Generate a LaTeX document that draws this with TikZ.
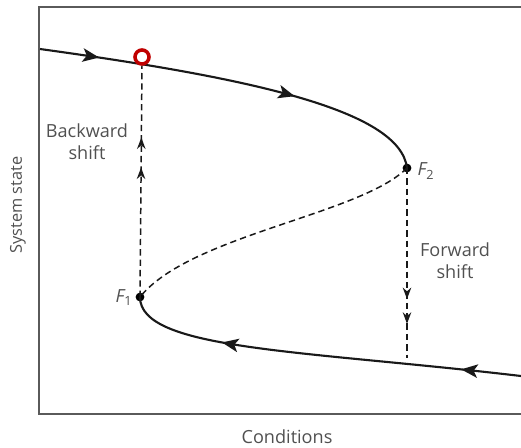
\documentclass[tikz,border=0pt]{standalone}
\usepackage{fontspec}
\setmainfont{Open Sans}
\usetikzlibrary{arrows.meta, decorations.markings}
\definecolor{inkaxis}{HTML}{5A5A5A}
\definecolor{inktext}{HTML}{505050}
\definecolor{inkred}{HTML}{C00000}

\begin{document}
\begin{tikzpicture}[x=0.02cm, y=-0.02cm,
    axis/.style={inkaxis, line width=1.1pt},
    branch/.style={black!90, line width=1.2pt},
    jump/.style={black!90, line width=0.85pt, dash pattern=on 3.6pt off 2.3pt},
    fold/.style={circle, fill=black, inner sep=0pt, minimum size=5pt},
    ring/.style={circle, draw=inkred, fill=white, line width=2pt,
                 inner sep=0pt, minimum size=8pt},
    lbl/.style={text=inktext, font=\fontsize{10.3}{12.5}\selectfont, align=center},
    flow/.style 2 args={postaction={decorate}, decoration={markings,
        mark=at position #1 with {\arrow{Stealth[length=3.3mm, width=2.7mm, inset=0.8mm]}},
        mark=at position #2 with {\arrow{Stealth[length=3.3mm, width=2.7mm, inset=0.8mm]}}}},
    shift/.style 2 args={postaction={decorate}, decoration={markings,
        mark=at position #1 with {\arrow{Stealth[length=2.3mm, width=1.7mm]}},
        mark=at position #2 with {\arrow{Stealth[length=2.3mm, width=1.7mm]}}}}]
  \useasboundingbox (0,0) rectangle (521,447);
  % frame
  \draw[axis] (521,7) -- (39,7) -- (39,414) -- (521,414);
  % points on the curve
  \coordinate (start) at (40,49);
  \coordinate (end) at (521,376);
  \coordinate (land) at (407,358);
  \node[fold] (F2) at (407,168) {};
  \node[fold] (F1) at (140,297) {};
  % branches
  \draw[branch, flow={0.15}{0.65}] (start) .. controls (250,78) and (400,110) .. (F2.center);
  \draw[branch, flow={0.15}{0.75}] (end) .. controls (300,350) and (140,350) .. (F1.center);
  \draw[jump] (F2.center) .. controls (360,215) and (190,235) .. (F1.center);
  % shifts
  \node[ring] (back) at (142,57) {};
  \draw[jump, shift={0.56}{0.69}] (F1.center) -- (back.south);
  \draw[jump, shift={0.69}{0.82}] (F2.center) -- (land);
  % labels
  \node[lbl] (bw) at (87,142) {Backward\\shift};
  \node[lbl] (fw) at (455,261) {Forward\\shift};
  \node[lbl] (f1) at (124,298) {\itshape F\textsubscript{\upshape 1}};
  \node[lbl] (f2) at (426,171) {\itshape F\textsubscript{\upshape 2}};
  \node[lbl, rotate=90, font=\fontsize{9.3}{10}\selectfont] (ylab) at (18,205) {System state};
  \node[lbl] (xlab) at (287,437) {Conditions};
\end{tikzpicture}
\end{document}
